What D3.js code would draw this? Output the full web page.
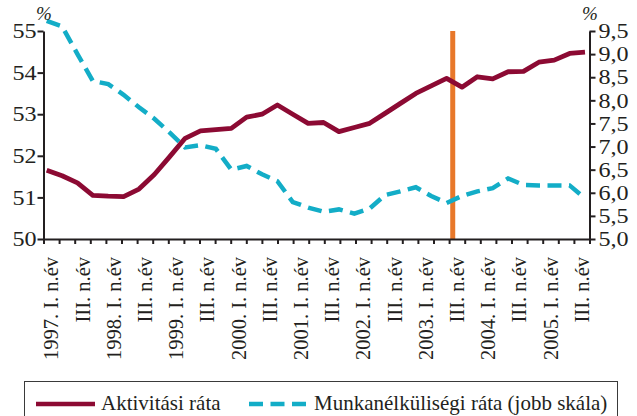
<!DOCTYPE html>
<html><head><meta charset="utf-8">
<script src="https://cdn.jsdelivr.net/npm/d3@7"></script>
<style>
body{margin:0;background:#fff}
svg{display:block}
text{font-family:"Liberation Serif","Times New Roman",serif;fill:#231f20}
</style>
</head><body>
<svg id="c" width="637" height="416"></svg>
<script>
// Quarter categories on the axis (1997 I – 2005 III)
const quarters = [
 "1997. I. n.év","1997. II. n.év","1997. III. n.év","1997. IV. n.év",
 "1998. I. n.év","1998. II. n.év","1998. III. n.év","1998. IV. n.év",
 "1999. I. n.év","1999. II. n.év","1999. III. n.év","1999. IV. n.év",
 "2000. I. n.év","2000. II. n.év","2000. III. n.év","2000. IV. n.év",
 "2001. I. n.év","2001. II. n.év","2001. III. n.év","2001. IV. n.év",
 "2002. I. n.év","2002. II. n.év","2002. III. n.év","2002. IV. n.év",
 "2003. I. n.év","2003. II. n.év","2003. III. n.év","2003. IV. n.év",
 "2004. I. n.év","2004. II. n.év","2004. III. n.év","2004. IV. n.év",
 "2005. I. n.év","2005. II. n.év","2005. III. n.év"
];
// Shown tick labels (every second quarter)
const tickLabels = [
 "1997. I. n.év","III. n.év","1998. I. n.év","III. n.év","1999. I. n.év","III. n.év",
 "2000. I. n.év","III. n.év","2001. I. n.év","III. n.év","2002. I. n.év","III. n.év",
 "2003. I. n.év","III. n.év","2004. I. n.év","III. n.év","2005. I. n.év","III. n.év"
];
// Series (36 observations)
const activity = [51.65,51.52,51.35,51.05,51.03,51.02,51.2,51.55,51.98,52.42,52.6,52.63,
 52.66,52.93,53.0,53.22,53.0,52.78,52.8,52.58,52.68,52.78,53.02,53.26,
 53.5,53.68,53.86,53.65,53.9,53.85,54.02,54.03,54.25,54.3,54.46,54.49];
const unemployment = [9.72,9.6,9.0,8.42,8.35,8.12,7.85,7.6,7.3,6.98,7.03,6.95,
 6.5,6.58,6.4,6.25,5.8,5.68,5.59,5.64,5.55,5.66,5.95,6.03,
 6.12,5.93,5.78,5.93,6.03,6.1,6.31,6.17,6.16,6.16,6.16,5.88];
const leftTicks = [50,51,52,53,54,55];
const rightTicks = [5.0,5.5,6.0,6.5,7.0,7.5,8.0,8.5,9.0,9.5];
const markerIndex = 26.4;
const legendLabels = ["Aktivitási ráta","Munkanélküliségi ráta (jobb skála)"];

const RED = "#8c0a33", BLUE = "#13adc7", ORANGE = "#e8782a", INK = "#231f20";
const svg = d3.select("#c");
const X0 = 43.5, X1 = 589.5, Y0 = 239, Y1 = 31;
const FONT = '"Liberation Serif","Times New Roman",serif';

const xAxisScale = d3.scaleLinear().domain([0, quarters.length]).range([X0, X1]);
const xLine = d3.scaleLinear().domain([0, activity.length - 1]).range([46.7, 585]);
const yL = d3.scaleLinear().domain([50, 55]).range([Y0, Y1]);
const yR = d3.scaleLinear().domain([5, 9.5]).range([Y0, Y1]);

// orange marker
svg.append("line")
  .attr("x1", xLine(markerIndex)).attr("x2", xLine(markerIndex))
  .attr("y1", yR(9.5)).attr("y2", yR(5))
  .attr("stroke", ORANGE).attr("stroke-width", 5);

// lines
const idx = d3.range(activity.length);
svg.append("path")
  .attr("d", d3.line().x(i => xLine(i)).y(i => yR(unemployment[i]))(idx))
  .attr("fill", "none").attr("stroke", BLUE).attr("stroke-width", 4.5)
  .attr("stroke-dasharray", "14,7.5");
svg.append("path")
  .attr("d", d3.line().x(i => xLine(i)).y(i => yL(activity[i]))(idx))
  .attr("fill", "none").attr("stroke", RED).attr("stroke-width", 4.8)
  .attr("stroke-linejoin", "round");

// axes
const styleAxis = (g, anchorRight) => {
  g.select(".domain").attr("stroke", INK).attr("stroke-width", 2);
  g.selectAll(".tick line").attr("stroke", INK).attr("stroke-width", 2);
  g.selectAll(".tick text").attr("fill", INK).style("font-size", "21px")
    .style("font-family", FONT)
    .attr("transform", function() {
      const x = +d3.select(this).attr("x");
      return `translate(${x},0) scale(1.15,1) translate(${-x},0)`;
    });
};
svg.append("g").attr("transform", `translate(${X0},0)`)
  .call(d3.axisLeft(yL).tickValues(leftTicks).tickSize(6).tickPadding(1).tickSizeOuter(0)
    .tickFormat(d3.format("d")))
  .call(styleAxis);
svg.append("g").attr("transform", `translate(${X1},0)`)
  .call(d3.axisRight(yR).tickValues(rightTicks).tickSize(6).tickPadding(3).tickSizeOuter(0)
    .tickFormat(d => d.toFixed(1).replace(".", ",")))
  .call(styleAxis);
svg.append("g").attr("transform", `translate(0,${Y0})`)
  .call(d3.axisBottom(xAxisScale).tickValues(d3.range(quarters.length + 1)).tickSize(5)
    .tickSizeOuter(0).tickFormat(""))
  .call(styleAxis);

// x labels
svg.append("g").selectAll("text").data(tickLabels).join("text")
  .attr("transform", (d, j) => `translate(${xAxisScale(j * 2 + 0.5)},257) rotate(-90)`)
  .attr("text-anchor", "end").attr("dy", "0.35em")
  .style("font-size", "20.5px").text(d => d);

// % units
svg.append("text").attr("x", 44).attr("y", 20).attr("text-anchor", "middle")
  .style("font-size", "19px").style("font-style", "italic").text("%");
svg.append("text").attr("x", 590).attr("y", 20).attr("text-anchor", "middle")
  .style("font-size", "19px").style("font-style", "italic").text("%");

// legend
svg.append("rect").attr("x", 24.5).attr("y", 381.5).attr("width", 593).attr("height", 60)
  .attr("fill", "none").attr("stroke", "#3a3a3a").attr("stroke-width", 1);
svg.append("line").attr("x1", 36).attr("x2", 95).attr("y1", 404).attr("y2", 404)
  .attr("stroke", RED).attr("stroke-width", 4.5);
svg.append("text").attr("x", 101).attr("y", 410).style("font-size", "21px").text(legendLabels[0]);
svg.append("line").attr("x1", 249).attr("x2", 306).attr("y1", 404).attr("y2", 404)
  .attr("stroke", BLUE).attr("stroke-width", 4.5).attr("stroke-dasharray", "14,7.5");
svg.append("text").attr("x", 314).attr("y", 410).style("font-size", "21px").text(legendLabels[1]);
</script>
</body></html>
